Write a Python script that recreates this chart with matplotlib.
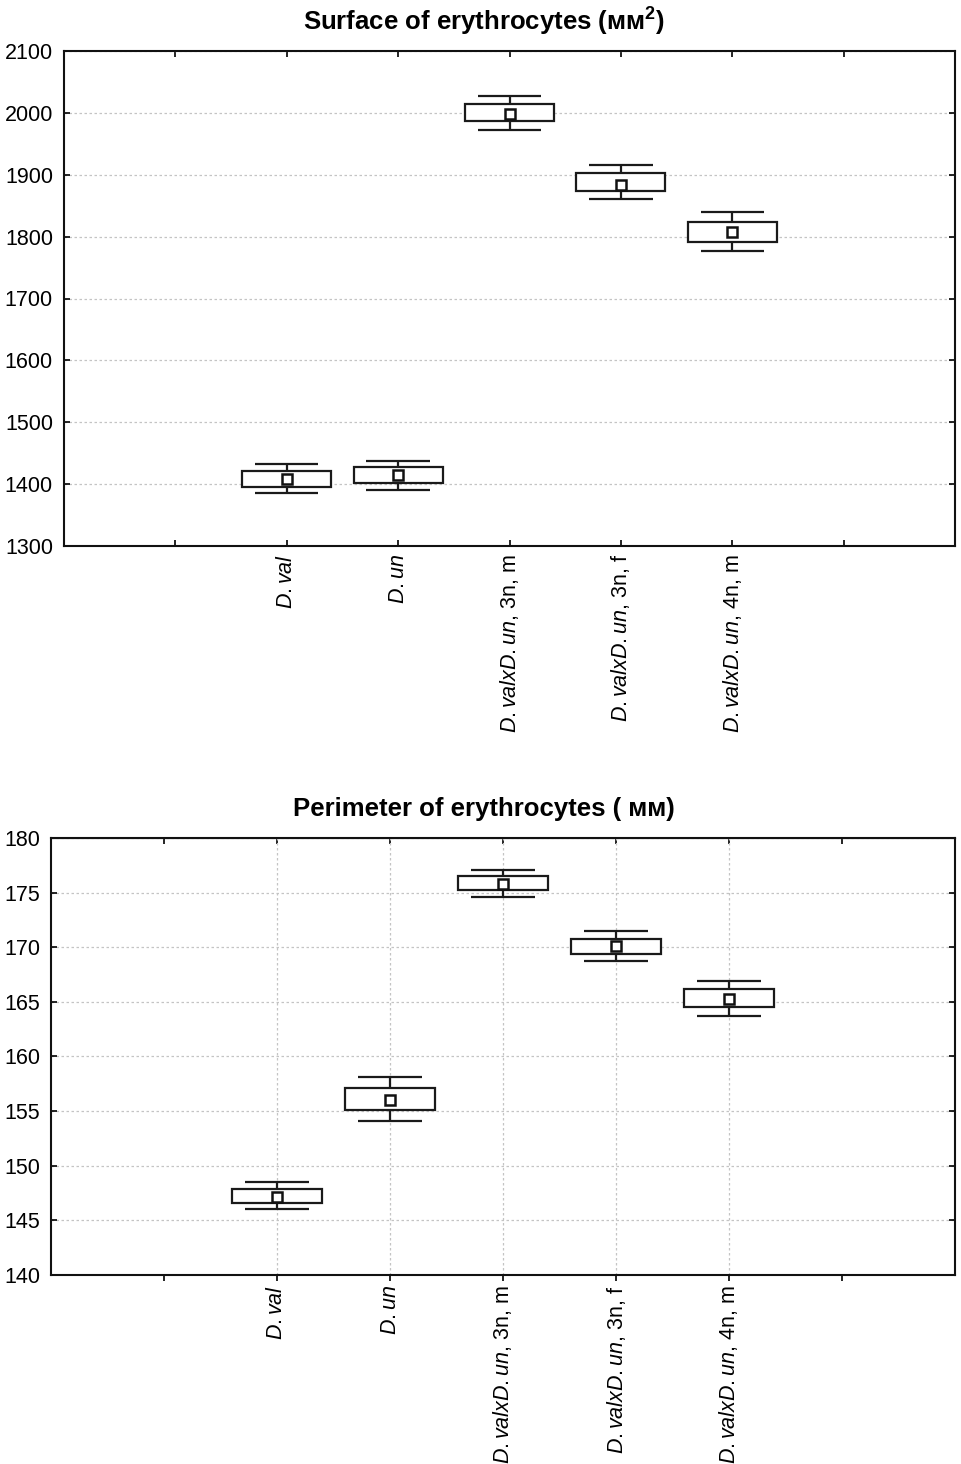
import matplotlib
matplotlib.use('Agg')
import matplotlib.pyplot as plt
import numpy as np

plt.rcParams['font.family'] = ['Liberation Sans', 'DejaVu Sans']
plt.rcParams['mathtext.fontset'] = 'custom'
plt.rcParams['mathtext.rm'] = 'Liberation Sans'
plt.rcParams['mathtext.it'] = 'Liberation Sans:italic'
plt.rcParams['mathtext.bf'] = 'Liberation Sans:bold'

# category labels (italic species part via mathtext)
labels = [r'$\mathit{D.val}$', r'$\mathit{D.un}$',
          r'$\mathit{D.valxD.un}$, 3n, m', r'$\mathit{D.valxD.un}$, 3n, f',
          r'$\mathit{D.valxD.un}$, 4n, m']
pos = [1, 2, 3, 4, 5]

# surface of erythrocytes
surf_mean = [1408, 1415, 1998, 1883, 1808]
surf_box_lo = [1396, 1402, 1987, 1874, 1791]
surf_box_hi = [1421, 1427, 2014, 1903, 1824]
surf_wh_lo = [1385, 1390, 1973, 1861, 1776]
surf_wh_hi = [1433, 1438, 2027, 1916, 1839]

# perimeter of erythrocytes
per_mean = [147.1, 156.0, 175.8, 170.1, 165.3]
per_box_lo = [146.6, 155.1, 175.2, 169.4, 164.5]
per_box_hi = [147.9, 157.1, 176.5, 170.8, 166.2]
per_wh_lo = [146.0, 154.1, 174.6, 168.75, 163.7]
per_wh_hi = [148.55, 158.1, 177.05, 171.5, 166.9]

W, H = 961, 1464
fig = plt.figure(figsize=(W/100, H/100), dpi=100)
LC = '#1a1a1a'

def draw(ax, mean, blo, bhi, wlo, whi):
    x = np.array(pos, dtype=float)
    blo = np.array(blo); bhi = np.array(bhi)
    ax.vlines(x, bhi, whi, color=LC, lw=1.6, zorder=3)
    ax.vlines(x, wlo, blo, color=LC, lw=1.6, zorder=3)
    ax.hlines(whi, x-0.285, x+0.285, color=LC, lw=1.6, zorder=3)
    ax.hlines(wlo, x-0.285, x+0.285, color=LC, lw=1.6, zorder=3)
    ax.bar(x, bhi-blo, bottom=blo, width=0.8, facecolor='white',
           edgecolor=LC, linewidth=1.6, zorder=4)
    ax.plot(x, mean, 's', ms=7, mfc='white', mec='#111111', mew=1.8, zorder=5)
    ax.set_xlim(-1, 7)
    ax.set_xticks(pos)
    ax.set_xticks([0, 6], minor=True)
    ax.set_xticklabels(labels, rotation=90, va='top', ha='center', fontsize=15.5)
    for s in ax.spines.values():
        s.set_linewidth(1.5)
        s.set_color('#111111')
    ax.tick_params(axis='y', labelsize=15.5, direction='in', right=True, length=4.5, width=1.2, pad=8)
    ax.tick_params(axis='x', which='both', top=True, length=4.5, width=1.2)
    ax.yaxis.grid(True, linestyle=(0, (2, 2)), color='#c4c4c4', lw=0.9)
    ax.set_axisbelow(True)

# top chart
ax1 = fig.add_axes([64/W, 1-546/H, (955-64)/W, (546-51)/H])
draw(ax1, surf_mean, surf_box_lo, surf_box_hi, surf_wh_lo, surf_wh_hi)
ax1.set_ylim(1300, 2100)
ax1.set_yticks(np.arange(1300, 2101, 100))
ax1.tick_params(axis='x', which='both', direction='in', pad=6)
fig.text(0.503, 1-22/H, r'Surface of erythrocytes (мм$^\mathbf{2}$)', ha='center', va='center',
         fontsize=18.5, fontweight='bold')

# bottom chart
ax2 = fig.add_axes([51/W, 1-1275/H, (955-51)/W, (1275-838)/H])
draw(ax2, per_mean, per_box_lo, per_box_hi, per_wh_lo, per_wh_hi)
ax2.set_ylim(140, 180)
ax2.set_yticks(np.arange(140, 181, 5))
ax2.tick_params(axis='x', which='both', direction='out', pad=3)
ax2.tick_params(axis='x', which='both', top=False)
ax2.xaxis.grid(True, which='major', linestyle=(0, (2, 2)), color='#c4c4c4', lw=0.9)
# inward ticks on top edge
sec = ax2.secondary_xaxis('top')
sec.set_xticks([0, 1, 2, 3, 4, 5, 6])
sec.set_xticklabels([])
sec.tick_params(direction='in', length=4.5, width=1.2)
fig.text(0.503, 1-809/H, 'Perimeter of erythrocytes ( мм)', ha='center', va='center',
         fontsize=18.5, fontweight='bold')

plt.savefig('out.png', dpi=100)
plt.close()
